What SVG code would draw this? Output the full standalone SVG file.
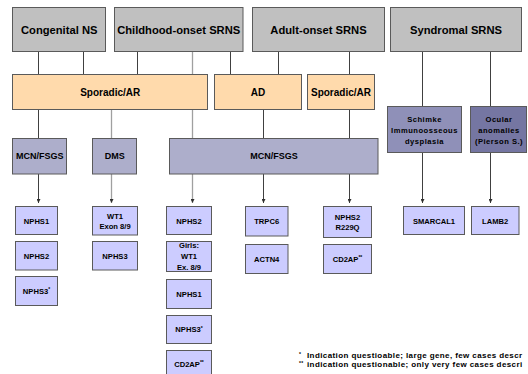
<svg xmlns="http://www.w3.org/2000/svg" width="528" height="374" viewBox="0 0 528 374">
<defs>
<style>
text{font-family:"Liberation Sans",Arial,sans-serif;font-weight:bold;fill:#000;text-anchor:middle}
.top{fill:#C0C0C0;stroke:#5A5A5A;stroke-width:1}
.peach{fill:#FFDAAC;stroke:#5A5A5A;stroke-width:1}
.mcn{fill:#ADAECB;stroke:#5A5A5A;stroke-width:1}
.sch{fill:#8F90B8;stroke:#5A5A5A;stroke-width:1}
.ocu{fill:#7576A2;stroke:#5A5A5A;stroke-width:1}
.gene{fill:#CCCCFF;stroke:#5A5A5A;stroke-width:1}
.t1{font-size:11.2px}
.t2{font-size:10px}
.t3{font-size:9px}
.t4{font-size:7.6px}
.t5{font-size:7.6px;letter-spacing:0.5px}
.fn{font-size:8px;letter-spacing:0.4px;text-anchor:start}
.sup{font-size:5px}
.ln{stroke:#404040;stroke-width:1;fill:none}
.lt{stroke:#A0A0A0;stroke-width:1.3;fill:none}
</style>
<marker id="ah" markerUnits="userSpaceOnUse" markerWidth="4" markerHeight="4" refX="4" refY="2" orient="auto">
<path d="M0,0 L4,2 L0,4 z" fill="#303030"/>
</marker>
</defs>
<rect width="528" height="374" fill="#FFFFFF"/>
<g id="connectors">
<line class="ln" x1="38.5" y1="52" x2="38.5" y2="74"/>
<line class="ln" x1="83.5" y1="52" x2="83.5" y2="74"/>
<line class="ln" x1="137.5" y1="52" x2="137.5" y2="74"/>
<line class="lt" x1="192.5" y1="52" x2="192.5" y2="138"/>
<line class="ln" x1="230.5" y1="52" x2="230.5" y2="74"/>
<line class="ln" x1="278.5" y1="52" x2="278.5" y2="74"/>
<line class="ln" x1="349.5" y1="52" x2="349.5" y2="74"/>
<line class="ln" x1="422.5" y1="52" x2="422.5" y2="106"/>
<line class="ln" x1="490.5" y1="52" x2="490.5" y2="106"/>
<line class="ln" x1="38.5" y1="110" x2="38.5" y2="138"/>
<line class="lt" x1="111.5" y1="110" x2="111.5" y2="138"/>
<line class="ln" x1="263.5" y1="110" x2="263.5" y2="138"/>
<line class="ln" x1="349.5" y1="110" x2="349.5" y2="138"/>
<line class="ln" x1="38.5" y1="174" x2="38.5" y2="203" marker-end="url(#ah)"/>
<line class="lt" x1="111.5" y1="174" x2="111.5" y2="203" marker-end="url(#ah)"/>
<line class="lt" x1="192.5" y1="174" x2="192.5" y2="203" marker-end="url(#ah)"/>
<line class="ln" x1="263.5" y1="174" x2="263.5" y2="203" marker-end="url(#ah)"/>
<line class="ln" x1="349.5" y1="174" x2="349.5" y2="203" marker-end="url(#ah)"/>
<line class="ln" x1="422.5" y1="153" x2="422.5" y2="203" marker-end="url(#ah)"/>
<line class="ln" x1="490.5" y1="153" x2="490.5" y2="203" marker-end="url(#ah)"/>
</g>
<g id="congenital"><rect class="top" x="12.5" y="7.5" width="93" height="44"/><text class="t1" x="59.2" y="34">Congenital NS</text></g>
<g id="childhood"><rect class="top" x="114.5" y="7.5" width="128.5" height="44"/><text class="t1" x="178.7" y="34">Childhood-onset SRNS</text></g>
<g id="adult"><rect class="top" x="252.5" y="7.5" width="132" height="44"/><text class="t1" x="318.5" y="34">Adult-onset SRNS</text></g>
<g id="syndromal"><rect class="top" x="390.5" y="7.5" width="131" height="44"/><text class="t1" x="456" y="34">Syndromal SRNS</text></g>
<g id="sporadic1"><rect class="peach" x="12.5" y="74.5" width="195" height="35"/><text class="t2" x="110.2" y="95.5">Sporadic/AR</text></g>
<g id="ad"><rect class="peach" x="214.5" y="74.5" width="87" height="35"/><text class="t2" x="258" y="95.5">AD</text></g>
<g id="sporadic2"><rect class="peach" x="307.5" y="74.5" width="67" height="35"/><text class="t2" x="341" y="95.5">Sporadic/AR</text></g>
<g id="mcn1"><rect class="mcn" x="12.5" y="138.5" width="54" height="35.5"/><text class="t3" x="39.7" y="159.3">MCN/FSGS</text></g>
<g id="dms"><rect class="mcn" x="92.5" y="138.5" width="44" height="35.5"/><text class="t3" x="114.7" y="159.3">DMS</text></g>
<g id="mcn2"><rect class="mcn" x="169.5" y="138.5" width="208.5" height="35.5"/><text class="t3" x="274" y="159.3">MCN/FSGS</text></g>
<g id="schimke"><rect class="sch" x="387.5" y="106.5" width="74" height="46"/><text class="t5" x="424.5" y="122">Schimke</text><text class="t5" x="424.5" y="133">Immunoosseous</text><text class="t5" x="424.5" y="144">dysplasia</text></g>
<g id="ocular"><rect class="ocu" x="470.5" y="106.5" width="56" height="46"/><text class="t5" x="499" y="122">Ocular</text><text class="t5" x="499" y="133">anomalies</text><text class="t5" x="499" y="144">(Pierson S.)</text></g>
<g id="c1-nphs1"><rect class="gene" x="15.5" y="206.5" width="42" height="28"/><text class="t4" x="36.5" y="223.5">NPHS1</text></g>
<g id="c1-nphs2"><rect class="gene" x="15.5" y="241.5" width="42" height="28.5"/><text class="t4" x="36.5" y="258.5">NPHS2</text></g>
<g id="c1-nphs3"><rect class="gene" x="15.5" y="276.5" width="42" height="29"/><text class="t4" x="36.5" y="293.5">NPHS3<tspan class="sup" dy="-2.5">*</tspan></text></g>
<g id="c2-wt1"><rect class="gene" x="92.5" y="206.5" width="45" height="28.5"/><text class="t4" x="115" y="218.8">WT1</text><text class="t4" x="115" y="228.8">Exon 8/9</text></g>
<g id="c2-nphs3"><rect class="gene" x="92.5" y="241.5" width="45" height="28.5"/><text class="t4" x="115" y="258.5">NPHS3</text></g>
<g id="c3-nphs2"><rect class="gene" x="166.5" y="206.5" width="45" height="28"/><text class="t4" x="189" y="223.5">NPHS2</text></g>
<g id="c3-girls"><rect class="gene" x="166.5" y="241.5" width="45" height="30"/><text class="t4" x="189" y="247.8">Girls:</text><text class="t4" x="189" y="259.3">WT1</text><text class="t4" x="189" y="270.3">Ex. 8/9</text></g>
<g id="c3-nphs1"><rect class="gene" x="166.5" y="279.5" width="45" height="29"/><text class="t4" x="189" y="296.5">NPHS1</text></g>
<g id="c3-nphs3"><rect class="gene" x="166.5" y="315.5" width="45" height="28"/><text class="t4" x="189" y="332">NPHS3<tspan class="sup" dy="-2.5">*</tspan></text></g>
<g id="c3-cd2ap"><rect class="gene" x="166.5" y="350.5" width="45" height="30"/><text class="t4" x="189" y="366.5">CD2AP<tspan class="sup" dy="-2.5">**</tspan></text></g>
<g id="c4-trpc6"><rect class="gene" x="245.5" y="206.5" width="42.5" height="29.5"/><text class="t4" x="266.7" y="224">TRPC6</text></g>
<g id="c4-actn4"><rect class="gene" x="245.5" y="244.5" width="42.5" height="29"/><text class="t4" x="266.7" y="261.5">ACTN4</text></g>
<g id="c5-nphs2"><rect class="gene" x="323.5" y="206.5" width="48" height="31"/><text class="t4" x="347.5" y="219.5">NPHS2</text><text class="t4" x="347.5" y="229.5">R229Q</text></g>
<g id="c5-cd2ap"><rect class="gene" x="323.5" y="244.5" width="48" height="29"/><text class="t4" x="347.5" y="261.5">CD2AP<tspan class="sup" dy="-2.5">**</tspan></text></g>
<g id="smarcal1"><rect class="gene" x="403.5" y="206.5" width="61" height="28"/><text class="t4" x="434" y="223.5">SMARCAL1</text></g>
<g id="lamb2"><rect class="gene" x="471.5" y="206.5" width="47.5" height="28"/><text class="t4" x="495.2" y="223.5">LAMB2</text></g>
<g id="footnote">
<text class="fn" x="299" y="357.5"><tspan class="sup" dy="-2">*</tspan><tspan x="307" dy="2">Indication questioable; large gene, few cases descr</tspan></text>
<text class="fn" x="299" y="367"><tspan class="sup" dy="-2">**</tspan><tspan x="307" dy="2">indication questionable; only very few cases descri</tspan></text>
</g>
</svg>
